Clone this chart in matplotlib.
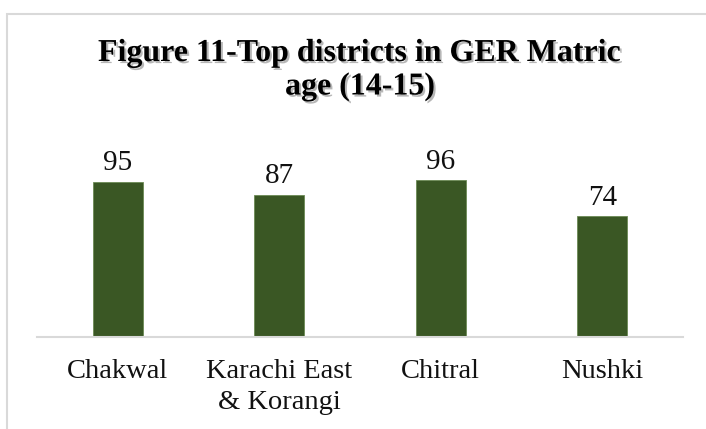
import matplotlib
matplotlib.use("Agg")
import matplotlib.pyplot as plt
import matplotlib.patheffects as pe
from matplotlib.patches import Rectangle

# data
districts = ["Chakwal", "Karachi East\n& Korangi", "Chitral", "Nushki"]
ger_values = [95, 87, 96, 74]

title_text = "Figure 11-Top districts in GER Matric\nage (14-15)"
bar_color = "#3A5724"
grid_gray = "#D9D9D9"

plt.rcParams["font.family"] = ["Liberation Serif", "DejaVu Serif"]

W, H = 706, 429
fig = plt.figure(figsize=(W / 100, H / 100), dpi=100)

# light frame round the chart (runs off the right and bottom edge)
fig.patches.append(Rectangle((7 / W, -0.1), 1.2, 1.1 - 14 / H,
                             transform=fig.transFigure, fill=False,
                             edgecolor=grid_gray, linewidth=1.5))

ymax = 110
px_per_unit = 1.633
ax_left, ax_right = 37, 683
ax_base = 337
ax_h = ymax * px_per_unit
ax = fig.add_axes([ax_left / W, (H - ax_base) / H,
                   (ax_right - ax_left) / W, ax_h / H])

x = range(len(districts))
bars = ax.bar(x, ger_values, width=0.31, color=bar_color,
              edgecolor="#6B8A55", linewidth=0.6, zorder=2)

ax.set_xlim(-0.5, len(districts) - 0.5)
ax.set_ylim(0, ymax)
ax.set_yticks([])
for s in ["left", "right", "top"]:
    ax.spines[s].set_visible(False)
ax.spines["bottom"].set_color(grid_gray)
ax.spines["bottom"].set_linewidth(1.5)

ax.set_xticks(list(x))
ax.set_xticklabels(districts, fontsize=20.5, color="#111111", linespacing=1.3)
ax.tick_params(axis="x", length=0, pad=16)

for b, v in zip(bars, ger_values):
    ax.annotate(f"{v}", (b.get_x() + b.get_width() / 2, v),
                xytext=(0, 4), textcoords="offset points",
                ha="center", va="bottom", fontsize=21, color="#111111")

fig.text(360 / W, 1 - 39 / H, title_text, ha="center", va="top",
         fontsize=23, fontweight="bold", color="black", linespacing=1.2,
         path_effects=[pe.SimplePatchShadow(offset=(1.5, -1.5),
                                            shadow_rgbFace="#888888",
                                            alpha=0.6),
                       pe.Normal()])

fig.savefig("out.png", dpi=100, facecolor="white")
